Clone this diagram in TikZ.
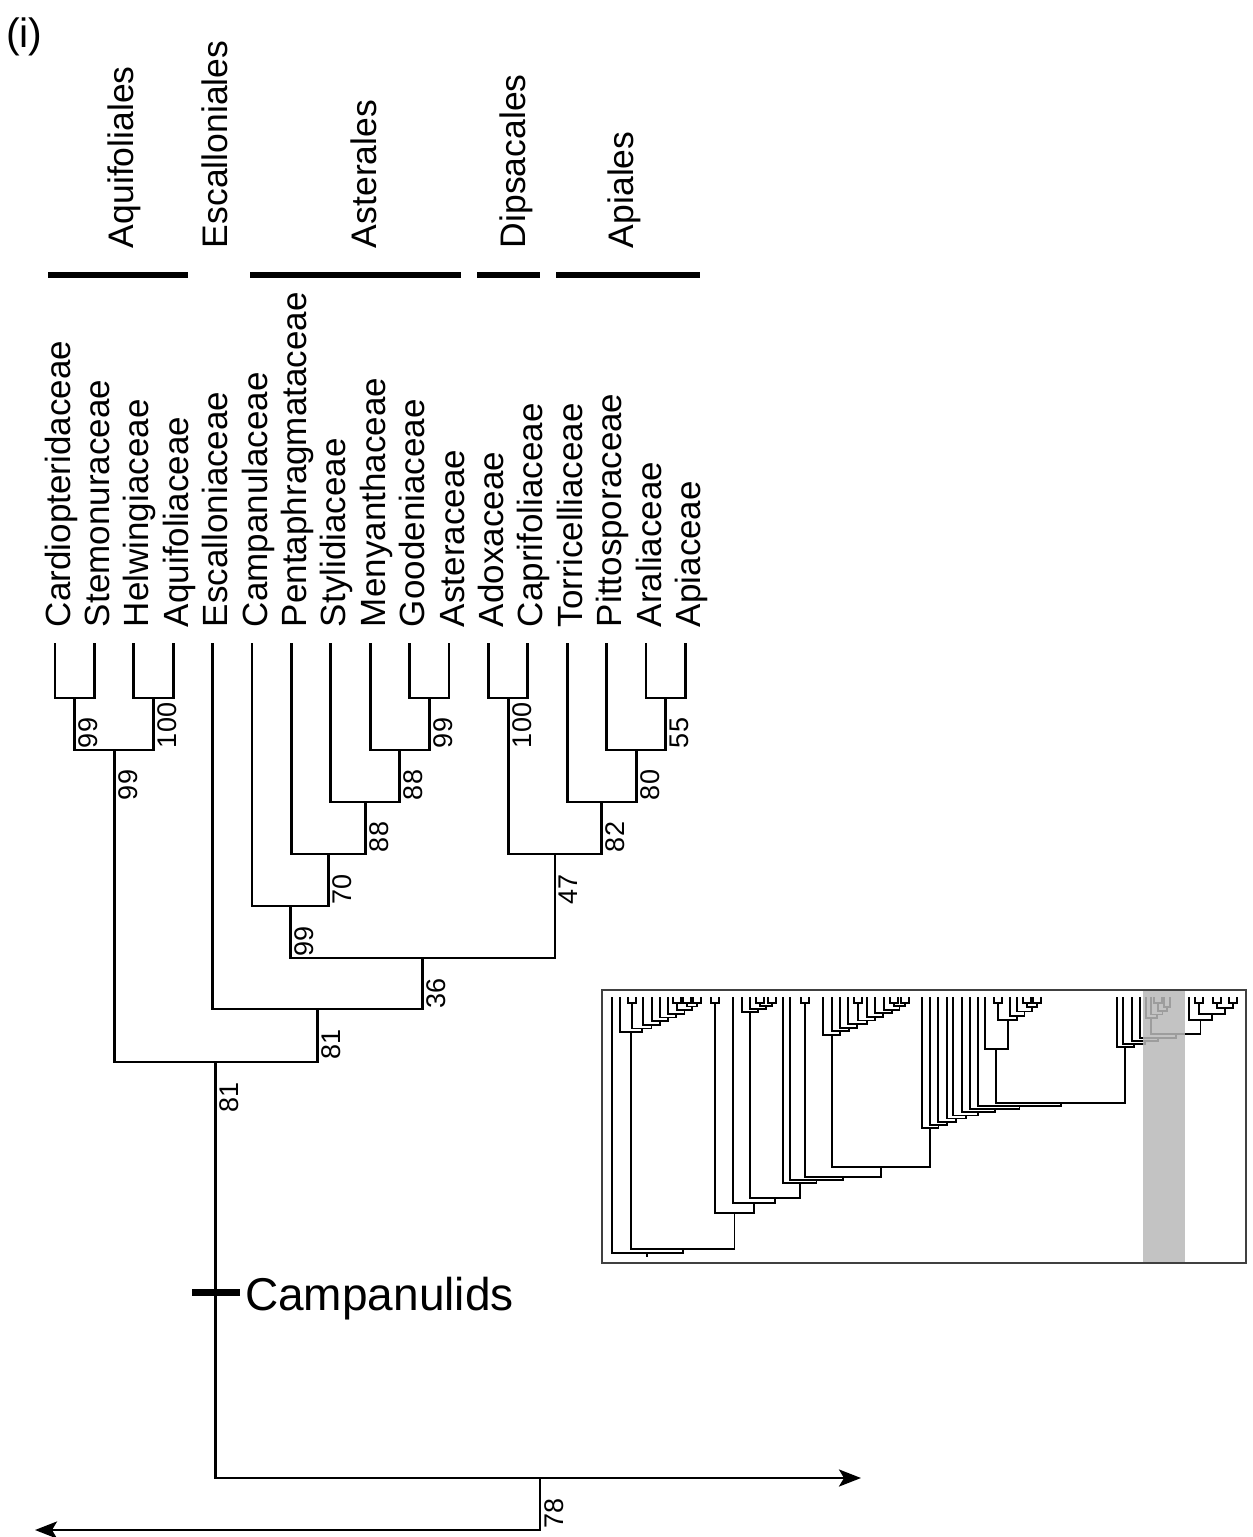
\documentclass[tikz,border=0pt]{standalone}
\usepackage{fontspec}
\setmainfont{Liberation Sans}
\usetikzlibrary{arrows.meta}
% comb/ladder drawer: #1 name of root, #2 y of shallowest bar, #3 step, #4 children right-to-left
\newcommand\combx[4]{%
  \foreach \p [count=\i] in {#4} {%
    \path (\p); \pgfgetlastxy{\qx}{\qy}%
    \pgfmathsetmacro\qx{\qx}\pgfmathsetmacro\qy{\qy}%
    \ifnum\i=1
      \xdef\cx{\qx}\xdef\cy{\qy}%
    \else
      \pgfmathsetmacro\ny{-(#2+(\i-2)*(#3))}%
      \draw[ins] (\qx pt,\qy pt) -- (\qx pt,\ny pt) -- (\cx pt,\ny pt) -- (\cx pt,\cy pt);%
      \pgfmathsetmacro\nx{(\qx+\cx)/2}%
      \xdef\cx{\nx}\xdef\cy{\ny}%
    \fi
  }%
  \coordinate (#1) at (\cx pt,\cy pt);%
}
\newcommand\forkx[1]{\draw[ins] (#1-4,997) -- (#1-4,1003) -- (#1+4,1003) -- (#1+4,997);}
\begin{document}
\begin{tikzpicture}[x=1pt,y=-1pt,
  br/.style={line width=2.8pt, line join=miter},
  ins/.style={line width=1.8pt, line join=miter},
  obar/.style={line width=6.5pt},
  fam/.style={rotate=90, anchor=base west, inner sep=0pt, outer sep=0pt, font=\fontsize{35}{40}\selectfont},
  bs/.style={rotate=90, anchor=base west, inner sep=0pt, outer sep=0pt, font=\fontsize{27}{30}\selectfont},
  arr/.style={-{Stealth[length=22pt,width=17pt,inset=5pt]}}]
\fill[white] (0,0) rectangle (1253,1537);
\useasboundingbox (0,0) rectangle (1253,1537);

% title
\node[anchor=base west, inner sep=0pt, font=\fontsize{41}{44}\selectfont] (title) at (6,47) {(i)};

% order labels and bars
\node[fam, font=\fontsize{35.5}{40}\selectfont] (oAq) at (133,248) {Aquifoliales};
\node[fam, font=\fontsize{35.5}{40}\selectfont] (oEs) at (227,248) {Escalloniales};
\node[fam, font=\fontsize{35.5}{40}\selectfont] (oAs) at (376,248) {Asterales};
\node[fam, font=\fontsize{35.5}{40}\selectfont] (oDi) at (525,248) {Dipsacales};
\node[fam, font=\fontsize{35.5}{40}\selectfont] (oAp) at (633,248) {Apiales};
\draw[obar] (48,275) -- (188,275);
\draw[obar] (250,275) -- (461,275);
\draw[obar] (477,275) -- (540,275);
\draw[obar] (556,275) -- (700,275);

% tips and family labels
\foreach \n [count=\i from 0] in {Cardiopteridaceae,Stemonuraceae,Helwingiaceae,Aquifoliaceae,Escalloniaceae,Campanulaceae,Pentaphragmataceae,Stylidiaceae,Menyanthaceae,Goodeniaceae,Asteraceae,Adoxaceae,Caprifoliaceae,Torricelliaceae,Pittosporaceae,Araliaceae,Apiaceae} {
  \coordinate (t\i) at ({55+39.4*\i},643);
  \node[fam] (f\i) at ({70+39.4*\i},627) {\n};
}

% internal nodes
\coordinate (n1) at (74.7,698);
\coordinate (n2) at (153.5,698);
\coordinate (n3) at (114.1,750);
\coordinate (n4) at (429.3,698);
\coordinate (n5) at (399.8,750);
\coordinate (n6) at (365.3,802);
\coordinate (n7) at (328.3,854);
\coordinate (n8) at (290.2,906);
\coordinate (n9) at (508.1,698);
\coordinate (n10) at (665.7,698);
\coordinate (n11) at (636.2,750);
\coordinate (n12) at (601.7,802);
\coordinate (n13) at (554.9,854);
\coordinate (n14) at (422.5,958);
\coordinate (n15) at (317.6,1009);
\coordinate (n16) at (215.8,1062);
\coordinate (n17) at (540,1478);
\coordinate (r) at (861,1478);
\coordinate (l) at (35,1530);

\draw[br] (t0) -- (t0 |- n1) -- (t1 |- n1) -- (t1);
\draw[br] (t2) -- (t2 |- n2) -- (t3 |- n2) -- (t3);
\draw[br] (n1) -- (n1 |- n3) -- (n2 |- n3) -- (n2);
\draw[br] (t9) -- (t9 |- n4) -- (t10 |- n4) -- (t10);
\draw[br] (t8) -- (t8 |- n5) -- (n4 |- n5) -- (n4);
\draw[br] (t7) -- (t7 |- n6) -- (n5 |- n6) -- (n5);
\draw[br] (t6) -- (t6 |- n7) -- (n6 |- n7) -- (n6);
\draw[br] (t5) -- (t5 |- n8) -- (n7 |- n8) -- (n7);
\draw[br] (t11) -- (t11 |- n9) -- (t12 |- n9) -- (t12);
\draw[br] (t15) -- (t15 |- n10) -- (t16 |- n10) -- (t16);
\draw[br] (t14) -- (t14 |- n11) -- (n10 |- n11) -- (n10);
\draw[br] (t13) -- (t13 |- n12) -- (n11 |- n12) -- (n11);
\draw[br] (n9) -- (n9 |- n13) -- (n12 |- n13) -- (n12);
\draw[br] (n8) -- (n8 |- n14) -- (n13 |- n14) -- (n13);
\draw[br] (t4) -- (t4 |- n15) -- (n14 |- n15) -- (n14);
\draw[br] (n3) -- (n3 |- n16) -- (n15 |- n16) -- (n15);
\draw[br,arr] (n16) -- (n16 |- n17) -- (r);
\draw[br,arr] (n17) -- (n17 |- l) -- (l);

% support values
\node[bs] (b1) at (97.7,748) {99};
\node[bs] (b2) at (176.5,748) {100};
\node[bs] (b3) at (137.1,800) {99};
\node[bs] (b4) at (452.3,748) {99};
\node[bs] (b5) at (422.8,800) {88};
\node[bs] (b6) at (388.3,852) {88};
\node[bs] (b7) at (351.3,904) {70};
\node[bs] (b8) at (313.2,956) {99};
\node[bs] (b9) at (531.1,748) {100};
\node[bs] (b10) at (688.7,748) {55};
\node[bs] (b11) at (659.2,800) {80};
\node[bs] (b12) at (624.7,852) {82};
\node[bs] (b13) at (577.9,904) {47};
\node[bs] (b14) at (445.5,1008) {36};
\node[bs] (b15) at (340.6,1059) {81};
\node[bs] (b16) at (238.8,1112) {81};
\node[bs] (b17) at (563,1528) {78};

% Campanulids marker
\coordinate (cm) at (216,1292);
\draw[line width=7pt] (cm) ++(-24,0) -- ++(48,0);
\node[anchor=base west, inner sep=0pt, font=\fontsize{46}{50}\selectfont] (camp) at (245,1310) {Campanulids};

% inset
\foreach \f in {697,687,677,632,772,760,715,905,894,858,1037,1027,998,1158,1233,1217,1199,805} {\forkx{\f}}
\combx{B}{1006.5}{3.65}{{697,1003},{687,1003},{677,1003},{668,997},{660,997},{652,997},{643,997},{632,1003},{620,997}}
\combx{C1}{1006}{2.8}{{772,1003},{760,1003},{750,997},{742,997}}
\combx{D}{1006}{3.6}{{905,1003},{894,1003},{884,997},{875,997},{867,997},{858,1003},{848,997},{840,997},{832,997},{823,997}}
\combx{F2}{1007}{4.4}{{1037,1003},{1027,1003},{1017,997},{1010,997},{998,1003}}
\combx{F}{1049}{0}{F2,{985,997}}
\combx{Cmp}{1007}{3.7}{{1170,997},{1164,997},{1158,1003},{1151,997},{1146,997}}
\combx{H}{1008}{6}{{1233,1003},{1217,1003},{1199,1003},{1189,997}}
\combx{CH}{1034}{0}{H,Cmp}
\combx{G}{1038}{3}{CH,{1140,997},{1131.7,997},{1123.3,997},{1116.7,997}}
\combx{E}{1103}{3.1}{G,F,{978,997},{970,997},{961.7,997},{953,997},{946.7,997},{938,997},{930,997},{921.7,997}}
\combx{DE}{1167}{0}{E,D}
\combx{C2}{1177}{3}{DE,{805,1003},{790,997},{783,997}}
\combx{J1}{1198}{0}{C2,C1}
\combx{J2}{1203}{0}{J1,{733,997}}
\combx{J3}{1213}{0}{J2,{715,1003}}
\combx{J4}{1249}{0}{J3,B}
\combx{R}{1253}{0}{J4,{612,997}}
\draw[ins] (R) -- ++(0,4);
\fill[gray!55, opacity=0.85] (1143,991) rectangle (1185,1262);
\draw[line width=1.5pt, black!75] (602,990) rectangle (1246,1263);
\end{tikzpicture}
\end{document}
